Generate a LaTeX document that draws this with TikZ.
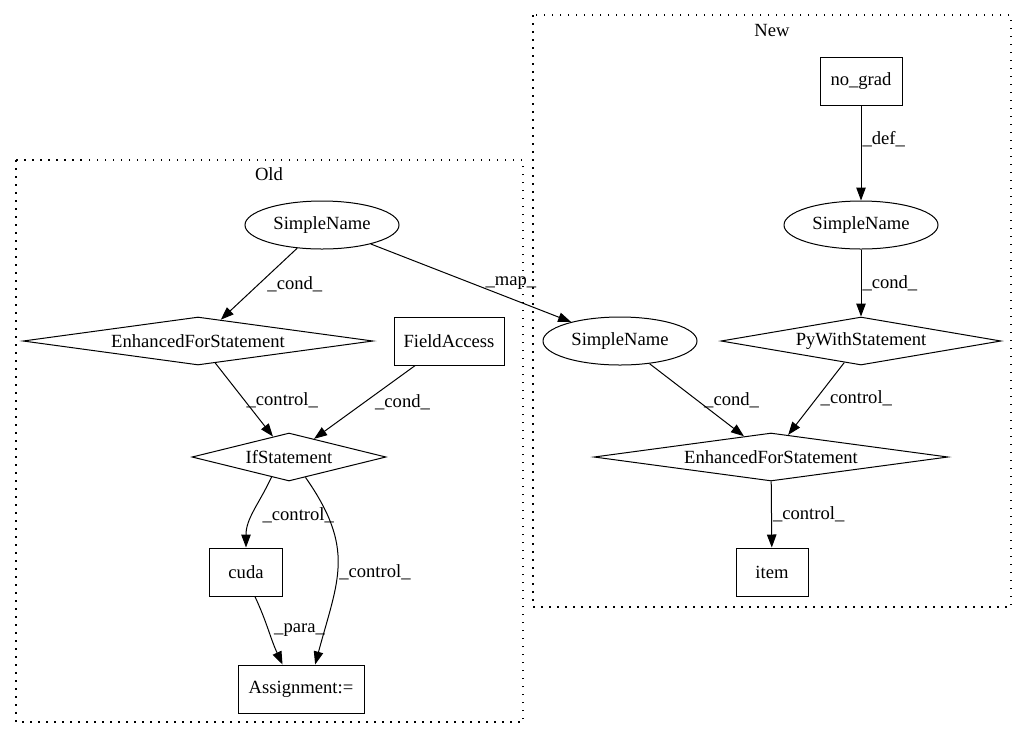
\documentclass[tikz,border=0pt]{standalone}
\usepackage{fontspec}
\setmainfont{Liberation Serif}
\usetikzlibrary{arrows.meta,shapes.geometric}

\begin{document}
\begin{tikzpicture}[x=1pt,y=-1pt,>={Triangle[length=13pt,width=9.5pt]},line width=1pt,
every node/.style={font=\fontsize{18.6}{21}\selectfont},
box node/.style={rectangle,draw,minimum height=48pt,inner sep=0pt},
name node/.style={ellipse,draw,minimum width=154pt,minimum height=48pt,inner sep=0pt},
stmt node/.style={diamond,draw,minimum height=48pt,inner sep=0pt,aspect=7},
lbl/.style={anchor=west,inner sep=0pt},
cluster/.style={draw,line width=1.1pt,dash pattern=on 1.5pt off 6.5pt}]

\useasboundingbox (0,0) rectangle (1027,740);

% clusters
\draw[cluster] (16,160) rectangle (523,722);
\node (old) at (269,174) {Old};
\draw[cluster] (533,15) rectangle (1011,607);
\node (new) at (772,30) {New};

% old side
\node[name node] (sn1) at (322,225) {SimpleName};
\node[stmt node,minimum width=350pt] (efs1) at (198,341) {EnhancedForStatement};
\node[box node,minimum width=110pt] (fa) at (449,341) {FieldAccess};
\node[stmt node,minimum width=194pt] (if) at (289,457) {IfStatement};
\node[box node,minimum width=73pt] (cuda) at (246,572) {cuda};
\node[box node,minimum width=126pt] (assign) at (301,689) {Assignment:=};

% new side
\node[box node,minimum width=82pt] (ng) at (861,81) {no\_grad};
\node[name node] (sn3) at (861,225) {SimpleName};
\node[name node] (sn2) at (620,341) {SimpleName};
\node[stmt node,minimum width=280pt] (pw) at (861,341) {PyWithStatement};
\node[stmt node,minimum width=354pt] (efs2) at (771,457) {EnhancedForStatement};
\node[box node,minimum width=72pt] (item) at (772,572) {item};

\path[->]
(sn1) edge node[lbl,xshift=8pt] {\_cond\_} (efs1)
(sn1) edge node[lbl,xshift=14pt] {\_map\_} (sn2)
(efs1) edge node[lbl,xshift=2pt] {\_control\_} (if)
(fa) edge node[lbl,xshift=10pt] {\_cond\_} (if)
(if.-131) edge[out=-115,in=90] node[lbl,xshift=8pt,yshift=-4pt] {\_control\_} (cuda.north)
(if.-51) edge[out=-55,in=75,looseness=1.2] node[lbl,xshift=1pt,yshift=-6pt] {\_control\_} (assign.60)
(cuda.-70) edge[out=-65,in=115] node[lbl,xshift=5pt] {\_para\_} (assign.127)
(ng) edge node[lbl,pos=0.354,xshift=1pt] {\_def\_} (sn3)
(sn3) edge node[lbl,xshift=1pt] {\_cond\_} (pw)
(sn2) edge node[lbl,xshift=7pt] {\_cond\_} (efs2)
(pw) edge node[lbl,xshift=4pt] {\_control\_} (efs2)
(efs2) edge node[lbl,xshift=1pt] {\_control\_} (item)
;
\end{tikzpicture}
\end{document}
